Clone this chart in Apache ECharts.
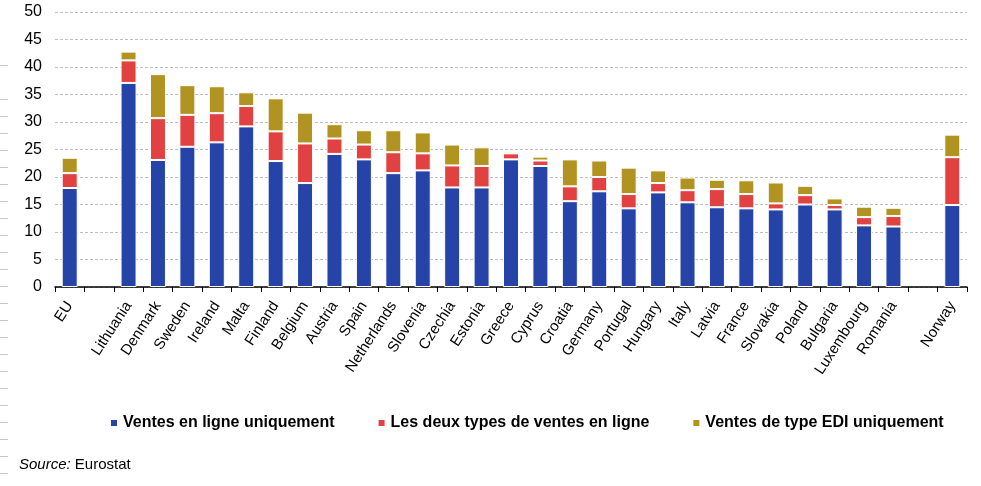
<!DOCTYPE html>
<html>
<head>
<meta charset="utf-8">
<script src="https://cdn.jsdelivr.net/npm/echarts@6/dist/echarts.min.js"></script>
<style>html,body{margin:0;padding:0;background:#fff}#c{width:981px;height:486px}</style>
</head>
<body>
<div id="c"></div>
<script>
const categories = ['EU','','Lithuania','Denmark','Sweden','Ireland','Malta','Finland','Belgium','Austria','Spain','Netherlands','Slovenia','Czechia','Estonia','Greece','Cyprus','Croatia','Germany','Portugal','Hungary','Italy','Latvia','France','Slovakia','Poland','Bulgaria','Luxembourg','Romania','','Norway'];
const onlineOnly = [18.0,null,37.1,23.1,25.5,26.3,29.2,22.9,18.9,24.2,23.2,20.7,21.2,18.1,18.1,23.2,22.0,15.6,17.4,14.3,17.2,15.4,14.5,14.3,14.1,15.0,14.1,11.2,11.0,null,14.9];
const bothTypes = [2.7,null,4.1,7.6,5.8,5.3,3.7,5.4,7.2,2.8,2.7,3.8,3.1,4.0,3.9,1.1,1.0,2.7,2.6,2.6,1.7,2.2,3.3,2.6,1.1,1.7,0.8,1.5,1.9,null,8.7];
const ediOnly = [2.8,null,1.6,8.0,5.4,4.9,2.5,6.0,5.6,2.6,2.6,4.0,3.8,3.8,3.4,0.3,0.7,4.9,3.0,4.8,2.3,2.3,1.7,2.5,3.8,1.7,1.2,1.9,1.5,null,4.1];
const yTicks = [0,5,10,15,20,25,30,35,40,45,50];
const seriesNames = ['Ventes en ligne uniquement','Les deux types de ventes en ligne','Ventes de type EDI uniquement'];
const colors = ['#2643A8','#E24141','#B09320'];

const chart = echarts.init(document.getElementById('c'));
const font = '"Liberation Sans", Arial, sans-serif';
const marks = [];
const ys = [65];
for (let y = 99; y <= 473; y += 17) ys.push(y);
ys.forEach(y => marks.push({type:'line', shape:{x1:0,y1:y+0.5,x2:8,y2:y+0.5}, style:{stroke:'#c8c8c8', lineWidth:1}, silent:true}));

function mk(i, data) {
  return {
    name: seriesNames[i], type: 'bar', stack: 'tot', data: data, barWidth: 16,
    itemStyle: {color: colors[i], borderColor: '#fff', borderWidth: 1},
    emphasis: {disabled: true}
  };
}
chart.setOption({
  animation: false,
  textStyle: {fontFamily: font},
  color: colors,
  grid: {left: 55, right: 14, top: 12, bottom: 199, containLabel: false},
  title: {
    text: '{i|Source:} Eurostat', left: 14, top: 452,
    textStyle: {fontFamily: font, fontSize: 15, fontWeight: 'normal', color: '#000',
      rich: {i: {fontFamily: font, fontSize: 15, fontStyle: 'italic', color: '#000'}}}
  },
  legend: {
    data: seriesNames, left: 104, top: 410, icon: 'rect', itemWidth: 8, itemHeight: 8, itemGap: 42,
    textStyle: {fontFamily: font, fontSize: 16, fontWeight: 'bold', color: '#000'},
    selectedMode: false
  },
  xAxis: {
    type: 'category', data: categories,
    axisLine: {lineStyle: {color: '#000', width: 1.5}},
    axisTick: {show: true, length: 5, lineStyle: {color: '#000'}, alignWithLabel: false},
    axisLabel: {rotate: 57, fontSize: 15, color: '#000', fontFamily: font, interval: 0, margin: 16}
  },
  yAxis: {
    type: 'value', min: 0, max: 50, interval: 5,
    axisLine: {show: false}, axisTick: {show: false},
    axisLabel: {fontSize: 16, color: '#000', fontFamily: font, margin: 13,
      formatter: v => yTicks.includes(v) ? String(v) : ''},
    splitLine: {lineStyle: {color: '#bdbdbd', type: [3,2], width: 1}}
  },
  graphic: marks,
  series: [mk(0, onlineOnly), mk(1, bothTypes), mk(2, ediOnly)]
});
</script>
</body>
</html>
